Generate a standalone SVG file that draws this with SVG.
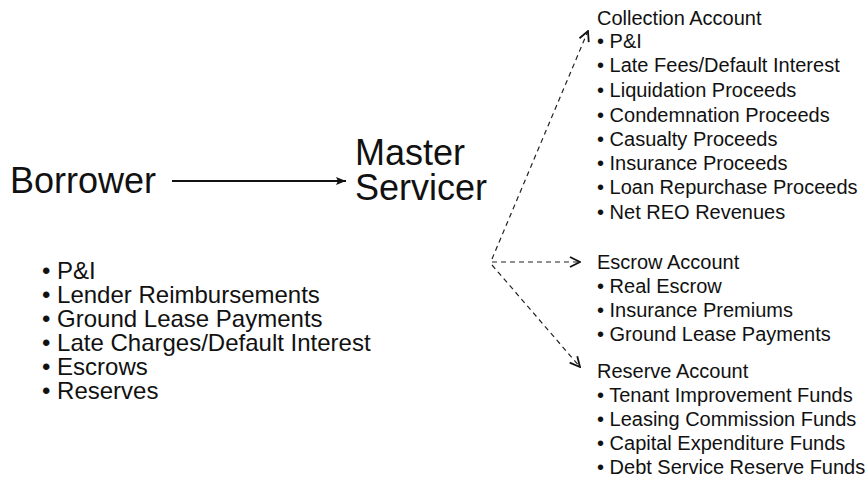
<svg xmlns="http://www.w3.org/2000/svg" width="868" height="481" viewBox="0 0 868 481">
<defs>
<style>
text{font-family:"Liberation Sans",Arial,sans-serif;fill:#111}
.big{font-size:36px}
.l{font-size:24px}
.r{font-size:20px}
.dash{fill:none;stroke:#222;stroke-width:1.2;stroke-dasharray:5,4}
</style>
<marker id="solid" viewBox="0 0 10 10" refX="10" refY="5" markerWidth="10" markerHeight="10" markerUnits="userSpaceOnUse" orient="auto">
<path d="M0,1 L10,5 L0,9 L2,5 Z" fill="#111"/>
</marker>
<marker id="open" viewBox="0 0 12 12" refX="11" refY="6" markerWidth="12" markerHeight="12" markerUnits="userSpaceOnUse" orient="auto">
<path d="M1,1 L11,6 L1,11" fill="none" stroke="#111" stroke-width="1.8"/>
</marker>
</defs>
<rect width="868" height="481" fill="#fff"/>
<g id="borrower"><text class="big" x="10" y="193">Borrower</text></g>
<g id="master-servicer"><text class="big" x="355" y="165">Master</text><text class="big" x="355" y="200">Servicer</text></g>
<g id="borrower-items">
<text class="l" x="42" y="279">• P&amp;I</text>
<text class="l" x="42" y="303">• Lender Reimbursements</text>
<text class="l" x="42" y="327">• Ground Lease Payments</text>
<text class="l" x="42" y="351">• Late Charges/Default Interest</text>
<text class="l" x="42" y="375">• Escrows</text>
<text class="l" x="42" y="399">• Reserves</text>
</g>
<g id="collection-account">
<text class="r" x="597" y="25">Collection Account</text>
<text class="r" x="597" y="48">• P&amp;I</text>
<text class="r" x="597" y="72">• Late Fees/Default Interest</text>
<text class="r" x="597" y="97">• Liquidation Proceeds</text>
<text class="r" x="597" y="122">• Condemnation Proceeds</text>
<text class="r" x="597" y="146">• Casualty Proceeds</text>
<text class="r" x="597" y="170">• Insurance Proceeds</text>
<text class="r" x="597" y="194">• Loan Repurchase Proceeds</text>
<text class="r" x="597" y="219">• Net REO Revenues</text>
</g>
<g id="escrow-account">
<text class="r" x="597" y="269">Escrow Account</text>
<text class="r" x="597" y="293">• Real Escrow</text>
<text class="r" x="597" y="317">• Insurance Premiums</text>
<text class="r" x="597" y="341">• Ground Lease Payments</text>
</g>
<g id="reserve-account">
<text class="r" x="597" y="378">Reserve Account</text>
<text class="r" x="597" y="402">• Tenant Improvement Funds</text>
<text class="r" x="597" y="426">• Leasing Commission Funds</text>
<text class="r" x="597" y="450">• Capital Expenditure Funds</text>
<text class="r" x="597" y="474">• Debt Service Reserve Funds</text>
</g>
<g id="connectors">
<line x1="172" y1="181" x2="346" y2="181" stroke="#111" stroke-width="2" marker-end="url(#solid)"/>
<path class="dash" d="M492,259 L588,31" marker-end="url(#open)"/>
<path class="dash" d="M492,262 L580,262" marker-end="url(#open)"/>
<path class="dash" d="M492,265 L580,367" marker-end="url(#open)"/>
</g>
</svg>
